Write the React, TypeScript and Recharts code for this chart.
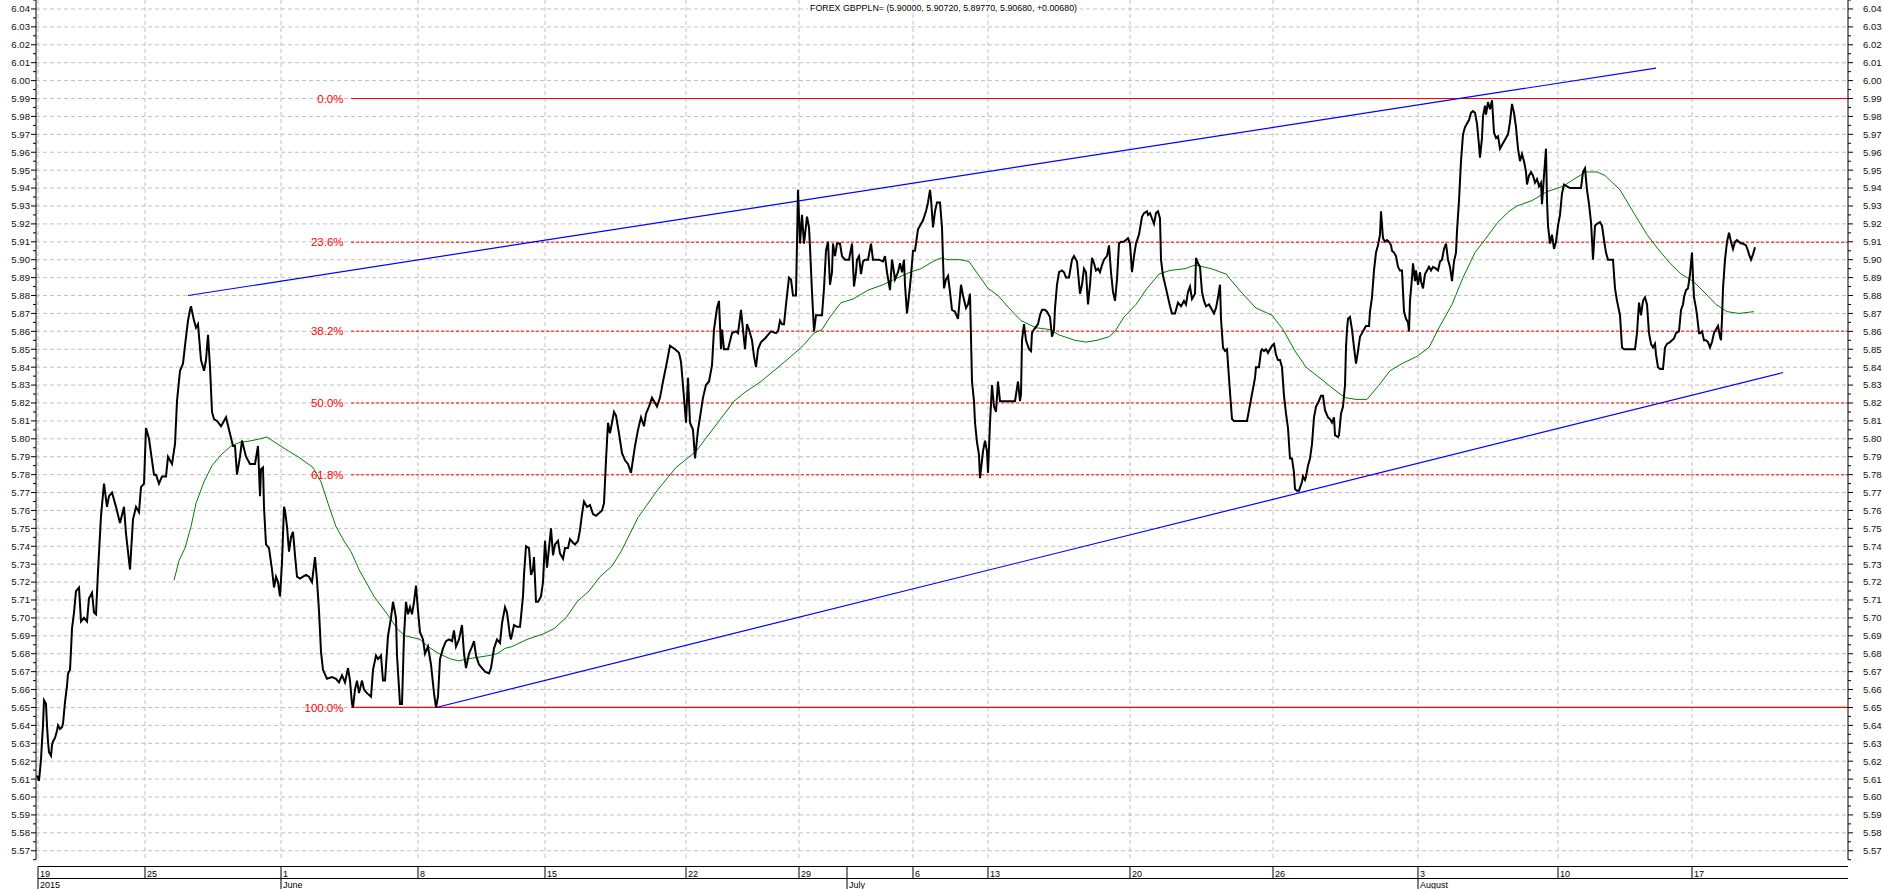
import React from "react";
import { ComposedChart, Line, XAxis, YAxis, CartesianGrid, ReferenceLine } from "recharts";

// ---------- text ----------
const TITLE = "FOREX GBPPLN= (5.90000, 5.90720, 5.89770, 5.90680, +0.00680)";

// ---------- axis labels ----------
const yTickLabels = [
  "5.57", "5.58", "5.59", "5.60", "5.61", "5.62", "5.63", "5.64", "5.65", "5.66", "5.67", "5.68",
  "5.69", "5.70", "5.71", "5.72", "5.73", "5.74", "5.75", "5.76", "5.77", "5.78", "5.79", "5.80",
  "5.81", "5.82", "5.83", "5.84", "5.85", "5.86", "5.87", "5.88", "5.89", "5.90", "5.91", "5.92",
  "5.93", "5.94", "5.95", "5.96", "5.97", "5.98", "5.99", "6.00", "6.01", "6.02", "6.03", "6.04",
];
const yDomain: [number, number] = [5.565, 6.045];

// bar index (hourly bars) of each day boundary shown on the time axis
const dayTickBars = [2, 109, 245, 382, 509, 650, 763, 811, 877, 952, 1094, 1237, 1382, 1522, 1656];
const dayTickLabels = ["19", "25", "1", "8", "15", "22", "29", "", "6", "13", "20", "26", "3", "10", "17"];
const monthTickBars = [2, 245, 811, 1382];
const monthLabels = ["2015", "June", "July", "August"];
const xDomain: [number, number] = [0, 1812];

// ---------- price (close) : [bar, price] ----------
const priceSeries: [number, number][] = [
  [1, 5.612], [3, 5.609], [5, 5.621], [6, 5.631], [7, 5.64], [8, 5.654], [10, 5.652], [11, 5.64], [12, 5.631],
  [13, 5.625], [15, 5.623], [16, 5.629], [17, 5.631], [19, 5.633], [21, 5.637], [22, 5.64], [24, 5.638],
  [26, 5.639], [27, 5.641], [29, 5.653], [31, 5.662], [32, 5.669], [34, 5.671], [35, 5.682], [36, 5.694],
  [38, 5.703], [40, 5.715], [43, 5.717], [45, 5.698], [48, 5.7], [51, 5.698], [53, 5.711], [56, 5.714],
  [58, 5.703], [60, 5.702], [62, 5.726], [65, 5.757], [68, 5.775], [71, 5.762], [73, 5.768], [76, 5.77],
  [80, 5.762], [84, 5.753], [88, 5.762], [90, 5.747], [94, 5.727], [97, 5.755], [100, 5.762], [103, 5.759],
  [105, 5.773], [108, 5.775], [110, 5.806], [113, 5.8], [116, 5.788], [118, 5.78], [120, 5.78], [123, 5.775],
  [126, 5.779], [130, 5.779], [132, 5.79], [136, 5.786], [139, 5.797], [141, 5.821], [144, 5.838],
  [147, 5.842], [149, 5.852], [152, 5.866], [154, 5.872], [155, 5.874], [158, 5.866], [160, 5.862],
  [162, 5.864], [165, 5.844], [168, 5.838], [170, 5.844], [172, 5.858], [174, 5.84], [176, 5.815],
  [178, 5.811], [181, 5.81], [185, 5.807], [187, 5.809], [190, 5.812], [193, 5.805], [197, 5.796],
  [199, 5.796], [201, 5.78], [204, 5.79], [206, 5.799], [210, 5.79], [214, 5.786], [219, 5.786],
  [222, 5.796], [224, 5.768], [225, 5.783], [227, 5.784], [228, 5.762], [230, 5.741], [233, 5.739],
  [236, 5.727], [238, 5.717], [240, 5.723], [242, 5.72], [244, 5.712], [246, 5.731], [248, 5.762],
  [249, 5.76], [251, 5.751], [253, 5.737], [255, 5.745], [257, 5.748], [259, 5.735], [261, 5.723],
  [264, 5.722], [267, 5.723], [270, 5.724], [273, 5.723], [276, 5.72], [279, 5.734], [281, 5.721],
  [283, 5.704], [285, 5.681], [287, 5.671], [291, 5.666], [296, 5.667], [300, 5.666], [303, 5.664],
  [306, 5.668], [309, 5.664], [312, 5.672], [314, 5.665], [316, 5.652], [317, 5.65], [319, 5.66],
  [321, 5.665], [323, 5.658], [326, 5.665], [328, 5.66], [331, 5.658], [335, 5.656], [337, 5.671],
  [340, 5.679], [342, 5.677], [345, 5.679], [347, 5.665], [349, 5.665], [352, 5.69], [355, 5.7],
  [357, 5.709], [360, 5.7], [361, 5.679], [364, 5.652], [366, 5.652], [368, 5.69], [370, 5.709],
  [372, 5.702], [374, 5.706], [376, 5.702], [378, 5.709], [380, 5.718], [382, 5.704], [384, 5.692],
  [387, 5.688], [389, 5.68], [392, 5.684], [395, 5.674], [398, 5.658], [400, 5.65], [402, 5.656],
  [404, 5.677], [407, 5.683], [410, 5.687], [413, 5.688], [416, 5.687], [418, 5.693], [420, 5.684],
  [423, 5.688], [426, 5.696], [428, 5.68], [430, 5.672], [433, 5.68], [436, 5.684], [438, 5.687],
  [440, 5.679], [443, 5.674], [446, 5.672], [449, 5.67], [453, 5.669], [455, 5.672], [458, 5.683],
  [461, 5.688], [464, 5.686], [466, 5.697], [469, 5.706], [471, 5.703], [474, 5.69], [475, 5.688],
  [478, 5.696], [481, 5.695], [484, 5.695], [487, 5.712], [488, 5.724], [490, 5.74], [493, 5.739],
  [495, 5.724], [497, 5.727], [498, 5.734], [500, 5.709], [502, 5.709], [505, 5.712], [507, 5.72],
  [509, 5.743], [511, 5.728], [513, 5.739], [515, 5.75], [517, 5.735], [519, 5.741], [522, 5.743],
  [524, 5.736], [527, 5.733], [529, 5.739], [532, 5.739], [534, 5.744], [537, 5.742], [539, 5.741],
  [542, 5.743], [544, 5.749], [546, 5.758], [548, 5.765], [551, 5.762], [554, 5.763], [557, 5.758],
  [560, 5.757], [562, 5.758], [566, 5.76], [568, 5.764], [570, 5.788], [572, 5.809], [574, 5.803],
  [576, 5.809], [578, 5.815], [580, 5.813], [583, 5.803], [586, 5.792], [589, 5.788], [592, 5.786],
  [595, 5.781], [599, 5.796], [602, 5.805], [605, 5.812], [608, 5.807], [610, 5.814], [613, 5.818],
  [616, 5.823], [621, 5.818], [624, 5.823], [627, 5.832], [631, 5.843], [634, 5.852], [639, 5.85],
  [643, 5.848], [645, 5.843], [648, 5.823], [650, 5.809], [652, 5.834], [654, 5.809], [657, 5.805],
  [659, 5.789], [662, 5.805], [664, 5.812], [667, 5.823], [670, 5.83], [673, 5.832], [676, 5.841],
  [678, 5.861], [681, 5.873], [683, 5.877], [685, 5.85], [686, 5.861], [688, 5.85], [692, 5.85],
  [696, 5.859], [700, 5.86], [702, 5.859], [705, 5.872], [707, 5.861], [709, 5.85], [711, 5.864],
  [713, 5.861], [716, 5.855], [718, 5.846], [720, 5.84], [722, 5.85], [725, 5.854], [729, 5.856],
  [732, 5.858], [735, 5.86], [740, 5.859], [742, 5.86], [744, 5.866], [746, 5.864], [748, 5.864],
  [750, 5.875], [753, 5.89], [755, 5.889], [757, 5.88], [760, 5.88], [762, 5.939], [764, 5.909],
  [766, 5.925], [768, 5.909], [771, 5.924], [773, 5.918], [774, 5.907], [776, 5.882], [778, 5.86],
  [780, 5.869], [783, 5.869], [786, 5.869], [788, 5.884], [790, 5.905], [792, 5.91], [794, 5.886],
  [796, 5.893], [797, 5.909], [799, 5.902], [801, 5.909], [804, 5.909], [806, 5.902], [809, 5.9],
  [813, 5.9], [816, 5.909], [818, 5.885], [820, 5.893], [821, 5.9], [823, 5.902], [825, 5.892],
  [827, 5.899], [829, 5.9], [832, 5.9], [835, 5.909], [837, 5.9], [840, 5.9], [843, 5.9], [847, 5.899],
  [849, 5.902], [851, 5.893], [854, 5.883], [856, 5.9], [858, 5.893], [859, 5.889], [862, 5.893],
  [864, 5.898], [866, 5.893], [868, 5.9], [869, 5.886], [871, 5.87], [873, 5.88], [875, 5.891],
  [877, 5.905], [879, 5.905], [882, 5.917], [884, 5.919], [887, 5.922], [890, 5.927], [892, 5.932],
  [894, 5.939], [895, 5.934], [897, 5.918], [899, 5.927], [901, 5.932], [904, 5.932], [906, 5.918],
  [907, 5.9], [908, 5.884], [910, 5.889], [912, 5.891], [914, 5.882], [916, 5.872], [919, 5.871],
  [922, 5.867], [925, 5.886], [927, 5.88], [930, 5.873], [932, 5.875], [934, 5.881], [936, 5.832],
  [938, 5.821], [939, 5.809], [941, 5.798], [943, 5.791], [944, 5.778], [947, 5.793], [949, 5.799],
  [951, 5.793], [952, 5.781], [954, 5.809], [956, 5.83], [958, 5.818], [960, 5.815], [962, 5.832],
  [964, 5.821], [968, 5.821], [974, 5.821], [979, 5.821], [982, 5.832], [984, 5.821], [985, 5.825],
  [986, 5.855], [988, 5.864], [990, 5.855], [993, 5.85], [995, 5.849], [996, 5.859], [998, 5.861],
  [1002, 5.864], [1004, 5.869], [1006, 5.872], [1009, 5.872], [1011, 5.871], [1014, 5.868],
  [1016, 5.857], [1018, 5.861], [1019, 5.873], [1021, 5.886], [1023, 5.893], [1026, 5.894],
  [1028, 5.893], [1030, 5.89], [1033, 5.89], [1036, 5.9], [1038, 5.902], [1041, 5.899], [1042, 5.893],
  [1044, 5.881], [1046, 5.886], [1048, 5.895], [1050, 5.893], [1052, 5.875], [1054, 5.886],
  [1056, 5.901], [1058, 5.898], [1060, 5.894], [1062, 5.895], [1064, 5.893], [1066, 5.897], [1068, 5.9],
  [1071, 5.902], [1073, 5.908], [1075, 5.893], [1077, 5.882], [1079, 5.877], [1081, 5.889],
  [1083, 5.909], [1085, 5.91], [1088, 5.91], [1092, 5.912], [1094, 5.909], [1096, 5.893], [1098, 5.902],
  [1100, 5.909], [1103, 5.914], [1106, 5.924], [1108, 5.926], [1111, 5.927], [1112, 5.925],
  [1114, 5.926], [1116, 5.923], [1118, 5.92], [1120, 5.926], [1122, 5.927], [1124, 5.923], [1125, 5.9],
  [1127, 5.891], [1130, 5.884], [1134, 5.874], [1136, 5.87], [1139, 5.87], [1142, 5.876], [1145, 5.874],
  [1148, 5.877], [1150, 5.875], [1152, 5.882], [1154, 5.885], [1156, 5.878], [1159, 5.881], [1160, 5.901],
  [1162, 5.898], [1164, 5.896], [1166, 5.882], [1168, 5.877], [1170, 5.874], [1173, 5.875], [1175, 5.873],
  [1177, 5.871], [1178, 5.87], [1180, 5.873], [1182, 5.879], [1184, 5.886], [1185, 5.867], [1187, 5.851],
  [1189, 5.849], [1191, 5.85], [1194, 5.826], [1196, 5.811], [1198, 5.81], [1205, 5.81], [1211, 5.81],
  [1213, 5.816], [1216, 5.825], [1219, 5.834], [1220, 5.84], [1223, 5.84], [1225, 5.849], [1226, 5.85],
  [1228, 5.849], [1230, 5.85], [1232, 5.848], [1234, 5.85], [1236, 5.852], [1238, 5.853], [1240, 5.847],
  [1242, 5.844], [1244, 5.844], [1246, 5.84], [1248, 5.824], [1250, 5.814], [1252, 5.806], [1254, 5.789],
  [1256, 5.789], [1258, 5.781], [1259, 5.772], [1261, 5.771], [1263, 5.771], [1266, 5.776], [1267, 5.779],
  [1269, 5.777], [1270, 5.779], [1272, 5.785], [1274, 5.789], [1276, 5.797], [1278, 5.812], [1280, 5.818],
  [1282, 5.82], [1285, 5.824], [1287, 5.824], [1289, 5.816], [1292, 5.812], [1294, 5.811], [1296, 5.809],
  [1298, 5.812], [1299, 5.802], [1302, 5.801], [1303, 5.802], [1305, 5.814], [1307, 5.818], [1309, 5.83],
  [1310, 5.851], [1311, 5.861], [1312, 5.867], [1314, 5.868], [1316, 5.861], [1318, 5.851], [1320, 5.842],
  [1322, 5.849], [1324, 5.857], [1326, 5.859], [1328, 5.861], [1330, 5.863], [1333, 5.863], [1334, 5.871],
  [1336, 5.879], [1338, 5.894], [1340, 5.904], [1342, 5.908], [1344, 5.914], [1345, 5.927], [1347, 5.912],
  [1349, 5.91], [1351, 5.911], [1353, 5.91], [1355, 5.908], [1356, 5.905], [1358, 5.904], [1360, 5.902],
  [1362, 5.896], [1364, 5.894], [1366, 5.894], [1368, 5.871], [1370, 5.867], [1372, 5.865], [1373, 5.86],
  [1374, 5.877], [1376, 5.89], [1377, 5.898], [1379, 5.888], [1380, 5.894], [1382, 5.886], [1384, 5.893],
  [1385, 5.888], [1387, 5.884], [1389, 5.892], [1391, 5.894], [1393, 5.896], [1395, 5.894], [1397, 5.896],
  [1400, 5.895], [1402, 5.894], [1404, 5.899], [1406, 5.9], [1408, 5.906], [1410, 5.909], [1412, 5.9],
  [1414, 5.896], [1416, 5.888], [1418, 5.899], [1420, 5.904], [1421, 5.916], [1423, 5.933], [1425, 5.955],
  [1427, 5.97], [1429, 5.974], [1431, 5.976], [1433, 5.978], [1435, 5.982], [1437, 5.983], [1439, 5.982],
  [1441, 5.976], [1443, 5.964], [1444, 5.957], [1446, 5.968], [1447, 5.98], [1449, 5.986], [1450, 5.981],
  [1452, 5.988], [1454, 5.984], [1456, 5.989], [1458, 5.971], [1460, 5.968], [1462, 5.969], [1464, 5.962],
  [1466, 5.964], [1469, 5.967], [1472, 5.97], [1474, 5.977], [1476, 5.987], [1478, 5.982], [1480, 5.974],
  [1482, 5.962], [1484, 5.955], [1486, 5.959], [1488, 5.955], [1490, 5.949], [1491, 5.942], [1493, 5.947],
  [1495, 5.949], [1497, 5.947], [1499, 5.943], [1501, 5.945], [1503, 5.941], [1505, 5.943], [1506, 5.931],
  [1508, 5.947], [1510, 5.962], [1511, 5.933], [1512, 5.919], [1514, 5.909], [1516, 5.914], [1518, 5.906],
  [1520, 5.91], [1522, 5.919], [1524, 5.925], [1526, 5.937], [1528, 5.942], [1531, 5.941], [1534, 5.94],
  [1538, 5.94], [1542, 5.94], [1545, 5.94], [1547, 5.949], [1549, 5.951], [1551, 5.939], [1553, 5.931],
  [1555, 5.921], [1556, 5.911], [1557, 5.9], [1559, 5.919], [1561, 5.92], [1564, 5.921], [1566, 5.919],
  [1568, 5.911], [1570, 5.904], [1572, 5.9], [1575, 5.9], [1577, 5.9], [1579, 5.884], [1581, 5.877],
  [1584, 5.869], [1586, 5.851], [1588, 5.85], [1594, 5.85], [1599, 5.85], [1601, 5.859], [1603, 5.876],
  [1605, 5.869], [1607, 5.877], [1609, 5.879], [1611, 5.875], [1613, 5.859], [1615, 5.853], [1617, 5.851],
  [1619, 5.853], [1620, 5.847], [1622, 5.84], [1624, 5.839], [1627, 5.839], [1629, 5.851], [1631, 5.853],
  [1634, 5.854], [1636, 5.855], [1638, 5.856], [1640, 5.859], [1643, 5.86], [1645, 5.872], [1647, 5.875],
  [1648, 5.879], [1650, 5.883], [1652, 5.884], [1654, 5.892], [1656, 5.904], [1657, 5.89], [1658, 5.879],
  [1660, 5.873], [1661, 5.869], [1663, 5.859], [1664, 5.859], [1666, 5.86], [1668, 5.855], [1670, 5.855],
  [1672, 5.854], [1674, 5.851], [1676, 5.854], [1678, 5.859], [1680, 5.861], [1682, 5.863], [1684, 5.857],
  [1685, 5.855], [1686, 5.867], [1687, 5.884], [1689, 5.9], [1691, 5.91], [1693, 5.915], [1695, 5.91],
  [1697, 5.906], [1699, 5.91], [1701, 5.911], [1703, 5.91], [1705, 5.909], [1707, 5.909], [1710, 5.908],
  [1712, 5.905], [1713, 5.903], [1715, 5.9], [1717, 5.903], [1719, 5.907],
];

// ---------- moving average : [bar, value] ----------
const maSeries: [number, number][] = [
  [138, 5.721], [143, 5.732], [149, 5.739], [155, 5.751], [160, 5.764], [168, 5.776], [176, 5.785],
  [185, 5.791], [195, 5.796], [204, 5.798], [216, 5.799], [224, 5.8], [231, 5.801], [239, 5.798],
  [250, 5.794], [262, 5.79], [277, 5.784], [285, 5.776], [292, 5.764], [300, 5.751], [308, 5.743],
  [315, 5.737], [323, 5.727], [331, 5.719], [338, 5.712], [346, 5.706], [354, 5.7], [361, 5.694],
  [369, 5.69], [377, 5.689], [384, 5.688], [392, 5.684], [400, 5.681], [407, 5.679], [415, 5.677],
  [423, 5.676], [430, 5.677], [442, 5.678], [453, 5.679], [461, 5.68], [469, 5.683], [476, 5.684],
  [491, 5.688], [507, 5.691], [518, 5.694], [530, 5.7], [541, 5.709], [553, 5.715], [564, 5.723],
  [576, 5.729], [585, 5.737], [602, 5.756], [621, 5.771], [640, 5.784], [660, 5.793], [679, 5.807],
  [698, 5.821], [709, 5.826], [725, 5.832], [740, 5.839], [755, 5.846], [767, 5.852], [778, 5.859],
  [786, 5.861], [794, 5.868], [805, 5.876], [817, 5.878], [832, 5.883], [847, 5.886], [862, 5.89],
  [874, 5.893], [885, 5.895], [897, 5.899], [905, 5.901], [912, 5.9], [924, 5.9], [933, 5.899],
  [943, 5.891], [952, 5.884], [962, 5.88], [973, 5.873], [985, 5.866], [1000, 5.862], [1014, 5.861],
  [1023, 5.858], [1039, 5.855], [1050, 5.854], [1061, 5.855], [1073, 5.857], [1079, 5.86], [1088, 5.868],
  [1100, 5.875], [1111, 5.884], [1123, 5.892], [1134, 5.894], [1149, 5.895], [1159, 5.897], [1175, 5.895],
  [1190, 5.892], [1205, 5.882], [1220, 5.873], [1236, 5.869], [1247, 5.861], [1259, 5.849], [1270, 5.84],
  [1286, 5.833], [1297, 5.828], [1309, 5.823], [1320, 5.822], [1331, 5.822], [1343, 5.83], [1354, 5.838],
  [1366, 5.842], [1381, 5.846], [1393, 5.851], [1404, 5.863], [1416, 5.875], [1427, 5.89], [1439, 5.904],
  [1450, 5.912], [1462, 5.921], [1473, 5.927], [1481, 5.93], [1496, 5.933], [1511, 5.938], [1527, 5.941],
  [1538, 5.945], [1550, 5.949], [1561, 5.949], [1569, 5.947], [1584, 5.939], [1599, 5.925], [1611, 5.914],
  [1622, 5.906], [1634, 5.898], [1645, 5.892], [1657, 5.888], [1668, 5.882], [1680, 5.875], [1691, 5.871],
  [1703, 5.87], [1718, 5.871],
];

// ---------- trend channel : [bar, price] ----------
const upperTrend: [number, number][] = [[152, 5.88], [1620, 6.007]];
const lowerTrend: [number, number][] = [[400, 5.65], [1747, 5.837]];

// ---------- Fibonacci retracement ----------
const fibHigh = 5.99;
const fibLow = 5.65;
const fibRatios = [0, 0.236, 0.382, 0.5, 0.618, 1];
const fibLabels = ["0.0%", "23.6%", "38.2%", "50.0%", "61.8%", "100.0%"];
const fibStartBar = 315;

// ---------- derived tables ----------
const toPts = (s: [number, number][]) => s.map(([t, p]) => ({ t, p }));
const priceData = toPts(priceSeries);
const maData = toPts(maSeries);
const upperData = toPts(upperTrend);
const lowerData = toPts(lowerTrend);
const majorY = yTickLabels.map((s) => parseFloat(s));
const allY: number[] = [];
majorY.forEach((v, i) => {
  allY.push(Math.round((v - 0.005) * 1000) / 1000);
  allY.push(v);
  if (i === majorY.length - 1) allY.push(Math.round((v + 0.005) * 1000) / 1000);
});
const gridX = dayTickBars.filter((_, i) => dayTickLabels[i] !== "");

// ---------- layout ----------
const W = 1883;
const H = 889;
const LEFT_W = 36;
const RIGHT_W = 35;
const XAX_H = 29.3;
const PLOT_L = LEFT_W;
const PLOT_R = W - RIGHT_W;
const ROW1 = 866.5;
const ROW2 = 878.5;
const FONT = "'Liberation Sans', Arial, sans-serif";

const isMajor = (v: number) => Math.round(v * 1000) % 10 === 0;

const LeftTick = (props: any) => {
  const { y, payload } = props;
  const v = payload.value as number;
  const maj = isMajor(v);
  return (
    <g>
      <line x1={PLOT_L - (maj ? 5 : 3)} x2={PLOT_L} y1={y} y2={y} stroke="#000" strokeWidth={1} />
      {maj && (
        <text x={PLOT_L - 6} y={y} dy={3.4} textAnchor="end" fontSize={9.6} fontFamily={FONT} fill="#111">
          {v.toFixed(2)}
        </text>
      )}
    </g>
  );
};

const RightTick = (props: any) => {
  const { y, payload } = props;
  const v = payload.value as number;
  const maj = isMajor(v);
  return (
    <g>
      <line x1={PLOT_R} x2={PLOT_R + (maj ? 5 : 3)} y1={y} y2={y} stroke="#000" strokeWidth={1} />
      {maj && (
        <text x={PLOT_R + 15} y={y} dy={3.4} textAnchor="start" fontSize={9.6} fontFamily={FONT} fill="#111">
          {v.toFixed(2)}
        </text>
      )}
    </g>
  );
};

const DateTick = (props: any) => {
  const { x, payload, index } = props;
  const v = payload.value as number;
  const di = dayTickBars.indexOf(v);
  const mi = monthTickBars.indexOf(v);
  const label = di >= 0 ? dayTickLabels[di] : "";
  return (
    <g>
      {index === 0 && (
        <g>
          <line x1={x} x2={PLOT_R} y1={ROW1} y2={ROW1} stroke="#000" strokeWidth={1} />
          <line x1={x} x2={PLOT_R} y1={ROW2} y2={ROW2} stroke="#000" strokeWidth={1} />
        </g>
      )}
      <line x1={x} x2={x} y1={ROW1} y2={ROW2} stroke="#000" strokeWidth={1} />
      {label && (
        <text x={x + 2} y={ROW2 - 2} fontSize={9} fontFamily={FONT} fill="#000">
          {label}
        </text>
      )}
      {mi >= 0 && (
        <g>
          <line x1={x} x2={x} y1={ROW2} y2={H} stroke="#000" strokeWidth={1} />
          <text x={x + 2} y={H - 1.5} fontSize={9} fontFamily={FONT} fill="#000">
            {monthLabels[mi]}
          </text>
        </g>
      )}
    </g>
  );
};

export default function App() {
  return (
    <div style={{ position: "absolute", left: 0, top: 0, width: W, height: H, background: "#fff" }}>
      <ComposedChart width={W} height={H} margin={{ top: 0, right: 0, bottom: 0, left: 0 }}>
        <CartesianGrid
          yAxisId="L"
          horizontalValues={majorY}
          verticalValues={gridX}
          stroke="#c0c0c0"
          strokeDasharray="4 3"
        />
        <XAxis
          type="number"
          dataKey="t"
          domain={xDomain}
          ticks={dayTickBars}
          interval={0}
          height={XAX_H}
          axisLine={false}
          tickLine={false}
          allowDataOverflow
          tick={(p: any) => <DateTick {...p} />}
        />
        <YAxis
          yAxisId="L"
          orientation="left"
          type="number"
          domain={yDomain}
          ticks={allY}
          interval={0}
          width={LEFT_W}
          tickLine={false}
          axisLine={{ stroke: "#000" }}
          allowDataOverflow
          tick={(p: any) => <LeftTick {...p} />}
        />
        <YAxis
          yAxisId="R"
          orientation="right"
          type="number"
          domain={yDomain}
          ticks={allY}
          interval={0}
          width={RIGHT_W}
          tickLine={false}
          axisLine={{ stroke: "#000" }}
          allowDataOverflow
          tick={(p: any) => <RightTick {...p} />}
        />
        {fibRatios.map((r, i) => {
          const level = fibHigh - r * (fibHigh - fibLow);
          const solid = i === 0 || i === fibRatios.length - 1;
          return (
            <ReferenceLine
              key={fibLabels[i]}
              yAxisId="L"
              segment={[
                { x: fibStartBar, y: level },
                { x: xDomain[1], y: level },
              ]}
              stroke="#ff0000"
              strokeWidth={solid ? 1.2 : 1}
              strokeDasharray={solid ? undefined : "3 2"}
              ifOverflow="visible"
              label={{
                value: fibLabels[i],
                position: "left",
                offset: 7.5,
                fill: "#ff0000",
                fontSize: 11.5,
                fontFamily: FONT,
              }}
            />
          );
        })}
        <Line yAxisId="L" data={upperData} dataKey="p" type="linear" stroke="#0000ff" strokeWidth={1.2} dot={false} isAnimationActive={false} />
        <Line yAxisId="L" data={lowerData} dataKey="p" type="linear" stroke="#0000ff" strokeWidth={1.2} dot={false} isAnimationActive={false} />
        <Line yAxisId="L" data={maData} dataKey="p" type="linear" stroke="#008000" strokeWidth={1} dot={false} isAnimationActive={false} />
        <Line yAxisId="L" data={priceData} dataKey="p" type="linear" stroke="#000" strokeWidth={2} dot={false} isAnimationActive={false} />
      </ComposedChart>
      <svg width={W} height={20} style={{ position: "absolute", left: 0, top: 0, pointerEvents: "none" }}>
        <rect x={808} y={2} width={272} height={12} fill="#fff" />
        <text x={943.5} y={11} textAnchor="middle" fontSize={9} fontFamily={FONT} fill="#000" textLength={267} lengthAdjust="spacingAndGlyphs">
          {TITLE}
        </text>
      </svg>
    </div>
  );
}
